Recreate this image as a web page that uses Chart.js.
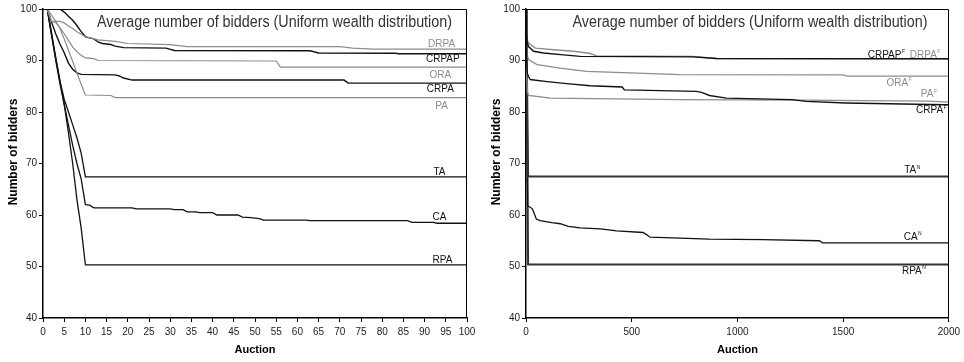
<!DOCTYPE html>
<html><head><meta charset="utf-8">
<script src="https://cdn.jsdelivr.net/npm/chart.js@4.4.0/dist/chart.umd.min.js"></script>
<style>
html,body{margin:0;padding:0;background:#fff;}
#wrap{position:relative;width:964px;height:362px;overflow:hidden;}
.box{position:absolute;top:0;height:362px;}
</style></head><body>
<div id="wrap">
<div class="box" style="left:0;width:480px"><canvas id="c1" width="480" height="362"></canvas></div>
<div class="box" style="left:480px;width:484px"><canvas id="c2" width="484" height="362"></canvas></div>
</div>
<script>
// ---------- tick values ----------
const LEFT_X_TICKS = [0,5,10,15,20,25,30,35,40,45,50,55,60,65,70,75,80,85,90,95,100];
const RIGHT_X_TICKS = [0,500,1000,1500,2000];
const Y_TICKS = [40,50,60,70,80,90,100];

// ---------- left chart series: [auction, bidders] ----------
const L_DRPA = [[1,100],[2,97.6],[4,97.6],[5,97.3],[6,96.7],[7,96.2],[8,95.6],[10,94.6],[13,94.0],[17,93.7],[20,93.3],[30,93.1],[34,92.7],[70,92.7],[73,92.4],[78,92.2],[100,92.2]];
const L_CRPAP = [[1,100],[4,100],[5,99.4],[6,98.6],[7,97.8],[8,96.8],[9,95.6],[10,94.6],[12,94.2],[13,93.6],[14,93.3],[16,93.1],[17,92.8],[19,92.5],[29,92.4],[31,91.95],[63,91.9],[65,91.45],[83,91.4],[84,91.3],[100,91.3]];
const L_ORA = [[1,100],[2,97.6],[3,97.4],[4,96.4],[5,95.2],[6,93.9],[7,92.6],[8,91.7],[9,91.0],[10,90.5],[12,90.35],[13,90.0],[55,89.9],[56,88.7],[100,88.7]];
const L_CRPA = [[1,100],[2,97.5],[3,95.2],[4,93.2],[5,91.5],[6,89.5],[7,88.3],[8,87.6],[9,87.3],[17,87.2],[18,87.0],[19,86.6],[21,86.2],[71,86.2],[72,85.6],[100,85.6]];
const L_PA = [[1,100],[2,98.8],[3,97.6],[4,96.2],[5,94.2],[6,92.0],[7,89.8],[8,87.6],[9,85.4],[10,83.3],[16,83.2],[17,82.8],[100,82.8]];
const L_TA = [[1,100],[2,95.5],[3,90.5],[4,86],[5,82.5],[6,80],[7,77.5],[8,75],[9,72],[10,67.4],[100,67.4]];
const L_CA = [[1,100],[2,95],[3,90],[4,85.5],[5,81.5],[6,77.5],[7,73.5],[8,70],[9,67],[10,62],[11,61.9],[12,61.4],[21,61.4],[22,61.2],[30,61.2],[31,61.05],[33,61.05],[34,60.6],[36,60.6],[37,60.45],[40,60.45],[41,60.0],[46,60.0],[47,59.6],[49,59.5],[50,59.4],[51,59.3],[52,59.0],[62,59.0],[63,58.9],[86,58.9],[87,58.55],[92,58.55],[93,58.4],[100,58.4]];
const L_RPA = [[1,100],[2,95],[3,90.5],[4,86],[5,81.5],[6,76],[7,70],[8,63],[9,57.5],[10,50.3],[100,50.3]];

// ---------- right chart series: [auction, bidders] ----------
const R_DRPA = [[1,100],[3,96],[6,94],[12,93.4],[44,92.4],[130,92.1],[224,91.8],[300,91.4],[334,90.9],[790,90.8],[900,90.4],[2000,90.35]];
const R_CRPAP = [[1,100],[3,95],[6,93.5],[12,92.7],[36,91.8],[83,91.45],[177,91.1],[256,90.8],[790,90.7],[900,90.4],[2000,90.35]];
const R_ORA = [[1,100],[3,93],[6,91],[12,90.2],[52,89.2],[162,88.5],[287,87.9],[492,87.6],[727,87.25],[1500,87.2],[1520,86.95],[2000,86.95]];
const R_PA = [[1,100],[3,88],[6,84],[12,83.2],[115,82.7],[727,82.4],[1300,82.3],[1900,82.1],[2000,81.9]];
const R_CRPA = [[1,100],[3,90],[6,87.5],[12,86.9],[20,86.3],[99,85.9],[193,85.5],[303,85.1],[455,84.85],[465,84.3],[806,84.0],[830,83.8],[868,83.2],[947,82.7],[1260,82.4],[1324,82.06],[1513,81.75],[1984,81.4],[2000,81.4]];
const R_TA = [[1,100],[10,67.5],[2000,67.5]];
const R_CA = [[1,100],[8,61.8],[20,61.5],[30,61.2],[39,60.3],[49,59.2],[67,58.9],[122,58.5],[162,58.3],[200,57.8],[256,57.5],[350,57.3],[382,57.15],[429,56.9],[554,56.6],[570,56.2],[586,55.7],[868,55.3],[1120,55.2],[1387,55.0],[1403,54.6],[2000,54.6]];
const R_RPA = [[1,100],[10,50.4],[2000,50.4]];

const BLACK = '#111111', GRAY = '#8c8c8c', DARK = '#333333';
const FONT = '"Liberation Sans", Arial, Helvetica, sans-serif';
const TITLE = 'Average number of bidders (Uniform wealth distribution)';

const LEFT_LABELS = [
  {t:'DRPA', x:94, y:93.25, c:GRAY},
  {t:'CRPAP', x:94.3, y:90.16, c:BLACK},
  {t:'ORA', x:93.7, y:87.2, c:GRAY},
  {t:'CRPA', x:93.7, y:84.4, c:BLACK},
  {t:'PA', x:94, y:81.2, c:GRAY},
  {t:'TA', x:93.5, y:68.35, c:BLACK},
  {t:'CA', x:93.5, y:59.6, c:BLACK},
  {t:'RPA', x:94.2, y:51.3, c:BLACK}
];
const RIGHT_LABELS = [
  {t:'CRPAP', s:'F', x:1696, y:91.1, c:BLACK},
  {t:'DRPA', s:'F', x:1879, y:91.0, c:GRAY},
  {t:'ORA', s:'F', x:1756, y:85.6, c:GRAY},
  {t:'PA', s:'F', x:1897, y:83.35, c:GRAY},
  {t:'CRPA', s:'F', x:1909, y:80.25, c:BLACK},
  {t:'TA', s:'N', x:1817, y:68.6, c:BLACK},
  {t:'CA', s:'N', x:1819, y:55.7, c:BLACK},
  {t:'RPA', s:'N', x:1825, y:49.05, c:BLACK}
];

const toXY = arr => arr.map(p => ({x:p[0], y:p[1]}));
function ds(arr, color, w) {
  return {data: toXY(arr), borderColor: color, backgroundColor: color, borderWidth: w,
          pointRadius: 0, tension: 0, fill: false};
}

const textPlugin = {
  id: 'texts',
  afterDraw(chart, args, o) {
    const {ctx, chartArea: a, scales} = chart;
    const xs = scales.x, ys = scales.y;
    ctx.save();
    // frame top/right
    ctx.strokeStyle = '#000'; ctx.lineWidth = 1;
    ctx.beginPath();
    ctx.moveTo(a.left, Math.round(a.top) + 0.5);
    ctx.lineTo(Math.round(a.right) - 0.5, Math.round(a.top) + 0.5);
    ctx.lineTo(Math.round(a.right) - 0.5, a.bottom);
    ctx.stroke();
    // title
    ctx.fillStyle = '#333';
    ctx.font = '16px ' + FONT;
    ctx.textAlign = 'center'; ctx.textBaseline = 'alphabetic';
    ctx.fillText(TITLE, a.left + o.titleDx, a.top + 17.7, 355);
    // y-axis title
    ctx.save();
    ctx.translate(a.left - 29, a.top + 143);
    ctx.rotate(-Math.PI / 2);
    ctx.font = 'bold 12px ' + FONT;
    ctx.fillStyle = '#000';
    ctx.textBaseline = 'middle'; ctx.textAlign = 'center';
    ctx.fillText('Number of bidders', 0, 0);
    ctx.restore();
    // series labels
    for (const l of o.labels) {
      const px = xs.getPixelForValue(l.x), py = ys.getPixelForValue(l.y);
      ctx.font = '10px ' + FONT;
      ctx.fillStyle = l.c;
      ctx.textAlign = 'center'; ctx.textBaseline = 'middle';
      ctx.fillText(l.t, px, py);
      if (l.s) {
        const w = ctx.measureText(l.t).width;
        ctx.font = '5px ' + FONT;
        ctx.textAlign = 'left';
        ctx.fillText(l.s, px + w / 2 + 0.5, py - 3.5);
      }
    }
    ctx.restore();
  }
};

function makeChart(id, datasets, xmax, xticks, yWidth, padRight, titleDx, labels) {
  return new Chart(document.getElementById(id), {
    type: 'line',
    data: {datasets},
    options: {
      responsive: false, animation: false, devicePixelRatio: 1,
      layout: {padding: {left: 0, right: padRight, top: 9, bottom: 0}},
      plugins: {legend: {display: false}, tooltip: {enabled: false},
                texts: {titleDx, labels}},
      scales: {
        x: {
          type: 'linear', min: 0, max: xmax,
          afterBuildTicks: s => { s.ticks = xticks.map(v => ({value: v})); },
          afterFit: s => { s.height = 44; },
          ticks: {autoSkip: false, maxRotation: 0, padding: 4, color: '#222',
                  font: {size: 10, family: FONT}, callback: v => String(v)},
          grid: {drawOnChartArea: false, drawTicks: true, tickLength: 4, color: '#000', lineWidth: 1},
          border: {display: true, color: '#000', width: 1.5},
          title: {display: true, text: 'Auction', color: '#000',
                  font: {size: 11, weight: 'bold', family: FONT}, padding: {top: 0, bottom: 5}}
        },
        y: {
          type: 'linear', min: 40, max: 100,
          afterBuildTicks: s => { s.ticks = Y_TICKS.map(v => ({value: v})); },
          afterFit: s => { s.width = yWidth; },
          ticks: {autoSkip: false, padding: 2, color: '#222',
                  font: {size: 10, family: FONT}, callback: v => String(v)},
          grid: {drawOnChartArea: false, drawTicks: true, tickLength: 4, color: '#000', lineWidth: 1},
          border: {display: true, color: '#000', width: 1.5}
        }
      }
    },
    plugins: [textPlugin]
  });
}

makeChart('c1', [
  ds(L_DRPA, GRAY, 1.2), ds(L_ORA, GRAY, 1.2), ds(L_PA, GRAY, 1.2),
  ds(L_CRPAP, BLACK, 1.4), ds(L_CRPA, BLACK, 1.4),
  ds(L_TA, BLACK, 1.3), ds(L_CA, BLACK, 1.3), ds(L_RPA, BLACK, 1.3)
], 100, LEFT_X_TICKS, 43, 13, 231.5, LEFT_LABELS);

makeChart('c2', [
  ds(R_CRPAP, BLACK, 1.4), ds(R_CRPA, BLACK, 1.4),
  ds(R_DRPA, GRAY, 1.4), ds(R_ORA, GRAY, 1.3), ds(R_PA, GRAY, 1.3),
  ds(R_TA, DARK, 2), ds(R_CA, BLACK, 1.3), ds(R_RPA, DARK, 2)
], 2000, RIGHT_X_TICKS, 46, 14, 224, RIGHT_LABELS);
</script>
</body></html>
